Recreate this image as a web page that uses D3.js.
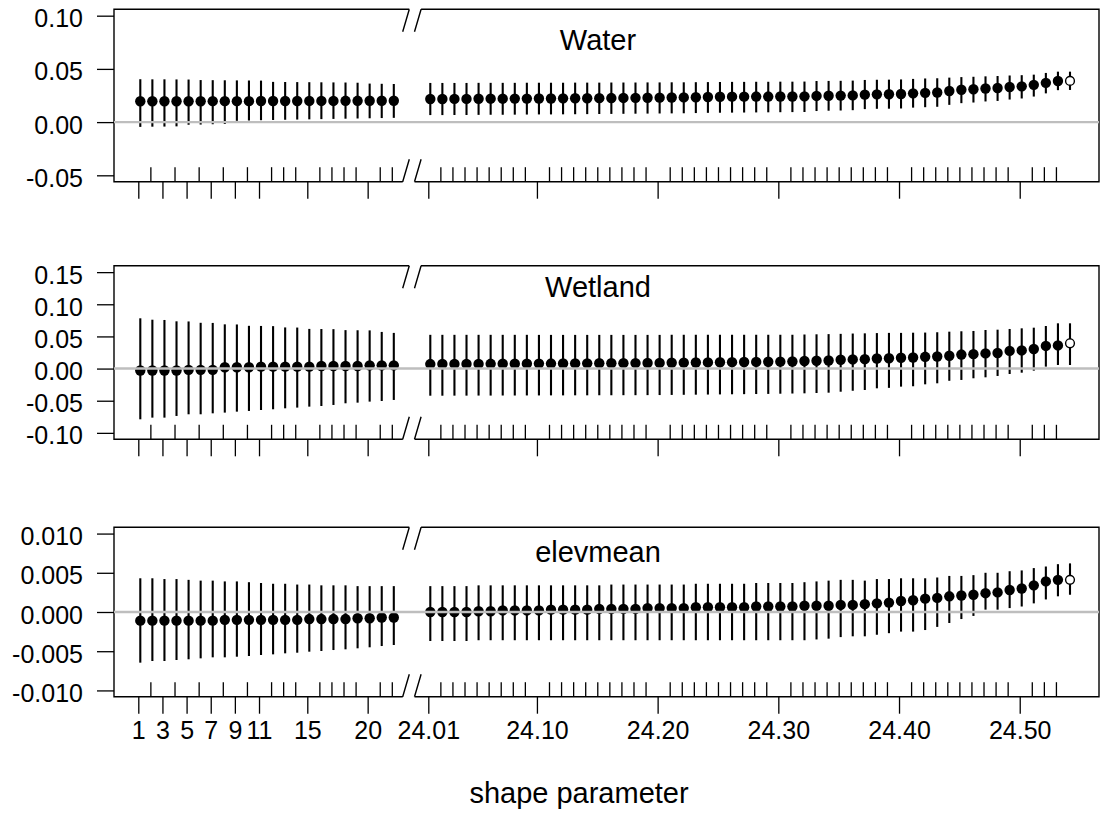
<!DOCTYPE html>
<html>
<head>
<meta charset="utf-8">
<script src="https://cdn.jsdelivr.net/npm/d3@7"></script>
<style>
  body { margin: 0; background: #fff; }
  svg { display: block; font-family: "Liberation Sans", Arial, sans-serif; }
</style>
</head>
<body>
<svg id="chart" width="1102" height="815"></svg>
<script>
// shape parameter values (left block 1..22, right block 24.01..24.54)
const shape = [
  1, 2, 3, 4, 5, 6, 7, 8, 9, 10, 11, 12, 13, 14, 15, 16, 17, 18, 19, 20, 21, 22,
  24.01, 24.02, 24.03, 24.04, 24.05, 24.06, 24.07, 24.08, 24.09, 24.10,
  24.11, 24.12, 24.13, 24.14, 24.15, 24.16, 24.17, 24.18, 24.19, 24.20,
  24.21, 24.22, 24.23, 24.24, 24.25, 24.26, 24.27, 24.28, 24.29, 24.30,
  24.31, 24.32, 24.33, 24.34, 24.35, 24.36, 24.37, 24.38, 24.39, 24.40,
  24.41, 24.42, 24.43, 24.44, 24.45, 24.46, 24.47, 24.48, 24.49, 24.50,
  24.51, 24.52, 24.53, 24.54
];
const openShape = 24.54;   // drawn as open circle

const leftTickLabels = [1, 3, 5, 7, 9, 11, 15, 20];
const rightTickLabels = [24.01, 24.10, 24.20, 24.30, 24.40, 24.50];

// Water
const waterMean = [
  0.0196, 0.0196, 0.0196, 0.0196, 0.0196, 0.0196, 0.0197, 0.0197, 0.0197, 0.0197, 0.0198,
  0.0198, 0.0198, 0.0198, 0.0199, 0.0199, 0.0199, 0.0200, 0.0200, 0.0201, 0.0201, 0.0201,
  0.0217, 0.0217, 0.0218, 0.0218, 0.0219, 0.0220, 0.0220, 0.0221, 0.0221, 0.0222,
  0.0222, 0.0223, 0.0224, 0.0224, 0.0225, 0.0226, 0.0227, 0.0228, 0.0229, 0.0230,
  0.0231, 0.0232, 0.0234, 0.0236, 0.0238, 0.0239, 0.0239, 0.0240, 0.0240, 0.0241,
  0.0241, 0.0242, 0.0246, 0.0248, 0.0249, 0.0251, 0.0258, 0.0261, 0.0262, 0.0264,
  0.0270, 0.0275, 0.0278, 0.0292, 0.0304, 0.0309, 0.0316, 0.0320, 0.0330, 0.0336,
  0.0350, 0.0369, 0.0386, 0.0387
];
const waterLower = [
  -0.0045, -0.0043, -0.0042, -0.0040, -0.0025, -0.0023, -0.0020, -0.0018, 0.0012, 0.0015, 0.0018,
  0.0020, 0.0022, 0.0024, 0.0026, 0.0028, 0.0030, 0.0032, 0.0034, 0.0036, 0.0038, 0.0040,
  0.0066, 0.0066, 0.0067, 0.0067, 0.0068, 0.0069, 0.0069, 0.0070, 0.0071, 0.0072,
  0.0072, 0.0073, 0.0074, 0.0075, 0.0076, 0.0077, 0.0078, 0.0079, 0.0080, 0.0081,
  0.0082, 0.0083, 0.0085, 0.0087, 0.0088, 0.0089, 0.0090, 0.0091, 0.0092, 0.0093,
  0.0094, 0.0095, 0.0104, 0.0107, 0.0109, 0.0112, 0.0122, 0.0125, 0.0126, 0.0128,
  0.0136, 0.0140, 0.0144, 0.0162, 0.0178, 0.0184, 0.0194, 0.0199, 0.0212, 0.0222,
  0.0240, 0.0270, 0.0300, 0.0302
];
const waterUpper = [
  0.0403, 0.0402, 0.0402, 0.0401, 0.0400, 0.0395, 0.0394, 0.0393, 0.0392, 0.0391, 0.0390,
  0.0378, 0.0377, 0.0376, 0.0375, 0.0374, 0.0373, 0.0372, 0.0370, 0.0362, 0.0360, 0.0358,
  0.0368, 0.0368, 0.0368, 0.0368, 0.0369, 0.0369, 0.0369, 0.0369, 0.0370, 0.0370,
  0.0370, 0.0370, 0.0371, 0.0371, 0.0371, 0.0372, 0.0372, 0.0372, 0.0373, 0.0373,
  0.0374, 0.0374, 0.0375, 0.0376, 0.0377, 0.0378, 0.0378, 0.0379, 0.0379, 0.0380,
  0.0380, 0.0381, 0.0386, 0.0387, 0.0388, 0.0390, 0.0396, 0.0398, 0.0399, 0.0401,
  0.0406, 0.0410, 0.0412, 0.0418, 0.0423, 0.0426, 0.0430, 0.0433, 0.0438, 0.0441,
  0.0446, 0.0462, 0.0474, 0.0474
];

// Wetland
const wetlandMean = [
  -0.003, -0.003, -0.003, -0.003, -0.002, -0.002, -0.002, 0.002, 0.002, 0.002, 0.003,
  0.003, 0.003, 0.003, 0.003, 0.004, 0.004, 0.004, 0.004, 0.005, 0.005, 0.005,
  0.0070, 0.0071, 0.0072, 0.0072, 0.0073, 0.0074, 0.0075, 0.0075, 0.0076,
  0.0077, 0.0078, 0.0079, 0.0080, 0.0081, 0.0082, 0.0083, 0.0084, 0.0085, 0.0086, 0.0088,
  0.0090, 0.0092, 0.0094, 0.0096, 0.0098, 0.0100, 0.0102, 0.0104, 0.0106, 0.0108, 0.0110,
  0.0118, 0.0122, 0.0126, 0.0138, 0.0142, 0.0146, 0.0156, 0.0161, 0.0168, 0.0173,
  0.0183, 0.0188, 0.0200, 0.0218, 0.0224, 0.0236, 0.0242, 0.0275, 0.0282,
  0.0305, 0.0352, 0.0360, 0.0393
];
const wetlandLower = [
  -0.0789, -0.0763, -0.0763, -0.0737, -0.0711, -0.0711, -0.0696, -0.0685, -0.0670, -0.0659, -0.0644,
  -0.0633, -0.0618, -0.0607, -0.0592, -0.0582, -0.0566, -0.0540, -0.0530, -0.0514, -0.0504, -0.0488,
  -0.0422, -0.0422, -0.0421, -0.0421, -0.0420, -0.0420, -0.0419, -0.0419, -0.0418,
  -0.0418, -0.0417, -0.0417, -0.0416, -0.0416, -0.0415, -0.0415, -0.0414, -0.0414, -0.0413, -0.0412,
  -0.0410, -0.0408, -0.0406, -0.0404, -0.0402, -0.0400, -0.0398, -0.0396, -0.0394, -0.0391, -0.0388,
  -0.0385, -0.0380, -0.0375, -0.0360, -0.0345, -0.0333, -0.0307, -0.0300, -0.0281, -0.0275,
  -0.0245, -0.0229, -0.0190, -0.0177, -0.0151, -0.0136, -0.0115, -0.0084, -0.0064,
  -0.0032, 0.0030, 0.0056, 0.0056
];
const wetlandUpper = [
  0.0782, 0.0760, 0.0756, 0.0735, 0.0733, 0.0712, 0.0710, 0.0688, 0.0686, 0.0665, 0.0663,
  0.0660, 0.0640, 0.0638, 0.0617, 0.0615, 0.0613, 0.0598, 0.0596, 0.0594, 0.0570, 0.0555,
  0.0525, 0.0525, 0.0525, 0.0525, 0.0525, 0.0525, 0.0525, 0.0525, 0.0525,
  0.0524, 0.0524, 0.0524, 0.0524, 0.0524, 0.0524, 0.0524, 0.0524, 0.0524, 0.0524, 0.0524,
  0.0526, 0.0526, 0.0526, 0.0526, 0.0526, 0.0526, 0.0526, 0.0526, 0.0526, 0.0526, 0.0526,
  0.0530, 0.0533, 0.0536, 0.0540, 0.0545, 0.0548, 0.0552, 0.0555, 0.0555, 0.0558,
  0.0560, 0.0565, 0.0574, 0.0580, 0.0585, 0.0600, 0.0605, 0.0616, 0.0626,
  0.0636, 0.0662, 0.0704, 0.0704
];

// elevmean
const elevMean = [
  -0.0011, -0.0011, -0.0011, -0.0011, -0.0011, -0.0011, -0.0011, -0.0010, -0.0010, -0.0010, -0.0010,
  -0.0010, -0.0010, -0.0010, -0.0009, -0.0009, -0.0009, -0.0009, -0.0008, -0.0008, -0.0007, -0.0007,
  0.0000, 0.0000, 0.0000, 0.0000, 0.0001, 0.0001, 0.0002, 0.0002, 0.0002,
  0.0002, 0.0003, 0.0003, 0.0003, 0.0003, 0.0004, 0.0004, 0.0004, 0.0004, 0.0005,
  0.0005, 0.0005, 0.0005, 0.0006, 0.0006,
  0.0006, 0.0006, 0.0006, 0.0007, 0.0007, 0.0007, 0.0007, 0.0008, 0.0008, 0.0008,
  0.0009, 0.0009, 0.0010, 0.0011, 0.0012, 0.0014, 0.0015, 0.0017, 0.0018, 0.0020,
  0.0021, 0.0022, 0.0024, 0.0025, 0.0028, 0.0030, 0.0034, 0.0039, 0.0041, 0.0041
];
const elevLower = [
  -0.00646, -0.00625, -0.00625, -0.00612, -0.00603, -0.00591, -0.00578, -0.00578, -0.00570, -0.00561, -0.00548,
  -0.00540, -0.00527, -0.00519, -0.00506, -0.00497, -0.00485, -0.00476, -0.00463, -0.00450, -0.00434, -0.00421,
  -0.0037, -0.0037, -0.0037, -0.0037, -0.0036, -0.0036, -0.0036, -0.0036, -0.0036,
  -0.0036, -0.0036, -0.0036, -0.0036, -0.0036, -0.0036, -0.0036, -0.0036, -0.0036, -0.0036,
  -0.0036, -0.0036, -0.0036, -0.0036, -0.0036,
  -0.0036, -0.0036, -0.0036, -0.0036, -0.0036, -0.0036, -0.0036, -0.0036, -0.0035, -0.0034,
  -0.0032, -0.0031, -0.0031, -0.0029, -0.0027, -0.0025, -0.0025, -0.0023, -0.0019, -0.0014,
  -0.0009, -0.0005, 0.0003, 0.0003, 0.0005, 0.0007, 0.0011, 0.0016, 0.0020, 0.0022
];
const elevUpper = [
  0.0043, 0.0043, 0.0042, 0.0042, 0.0041, 0.0040, 0.0040, 0.0039, 0.0039, 0.0038, 0.0037,
  0.0036, 0.0036, 0.0035, 0.0035, 0.0034, 0.0034, 0.0034, 0.0033, 0.0033, 0.0033, 0.0033,
  0.0033, 0.0033, 0.0033, 0.0033, 0.0034, 0.0034, 0.0034, 0.0034, 0.0034,
  0.0034, 0.0034, 0.0034, 0.0034, 0.0034, 0.0034, 0.0035, 0.0035, 0.0035, 0.0035,
  0.0035, 0.0035, 0.0035, 0.0036, 0.0036,
  0.0036, 0.0036, 0.0036, 0.0037, 0.0037, 0.0037, 0.0037, 0.0038, 0.0039, 0.0040,
  0.0041, 0.0041, 0.0040, 0.0042, 0.0042, 0.0043, 0.0043, 0.0043, 0.0044, 0.0046,
  0.0046, 0.0047, 0.0050, 0.0050, 0.0052, 0.0053, 0.0056, 0.0058, 0.0061, 0.0062
];

// ---- layout ----
const svg = d3.select('#chart');
const locale = d3.formatLocale({ decimal: '.', thousands: ',', grouping: [3], currency: ['', ''], minus: '-' });

const boxLeft = 114, boxRight = 1099;
const gapStart = 402.7, gapEnd = 414.5, slant = 6.6, slashH = 22.5;
const pointShift = 2;
const ink = '#000';

const xLeft = d3.scaleLinear().domain([1, 22]).range([138.3, 391.8]);
const xRight = d3.scaleLinear().domain([24.01, 24.54]).range([428.3, 1068]);
const xPos = v => (v < 23 ? xLeft(v) : xRight(v));

const leftShape = shape.filter(v => v < 23);
const rightShape = shape.filter(v => v > 23);
const rugLeft = leftShape.filter(v => !leftTickLabels.includes(v));
const rugRight = rightShape.filter(v => v !== openShape && !rightTickLabels.some(t => Math.abs(t - v) < 1e-9));

const panels = [
  { title: 'Water', mean: waterMean, lower: waterLower, upper: waterUpper,
    top: 9.3, bottom: 181.7, ylim: [-0.05, 0.10], ticks: [-0.05, 0, 0.05, 0.10], fmt: '.2f', titleY: 50, labels: false },
  { title: 'Wetland', mean: wetlandMean, lower: wetlandLower, upper: wetlandUpper,
    top: 265.7, bottom: 439.3, ylim: [-0.10, 0.15], ticks: [-0.10, -0.05, 0, 0.05, 0.10, 0.15], fmt: '.2f', titleY: 296.7, labels: false },
  { title: 'elevmean', mean: elevMean, lower: elevLower, upper: elevUpper,
    top: 527.3, bottom: 696.7, ylim: [-0.010, 0.010], ticks: [-0.010, -0.005, 0, 0.005, 0.010], fmt: '.3f', titleY: 561.7, labels: true }
];

function styleAxis(sel) {
  sel.select('.domain').remove();
  sel.selectAll('.tick line').attr('stroke', ink).attr('stroke-width', 1.3);
  sel.selectAll('.tick text').attr('fill', ink);
  sel.attr('font-size', 25).attr('font-family', '"Liberation Sans", Arial, sans-serif');
}

panels.forEach(p => {
  const pad = (p.ylim[1] - p.ylim[0]) * 0.04;
  const y = d3.scaleLinear()
    .domain([p.ylim[0] - pad, p.ylim[1] + pad])
    .range([p.bottom, p.top]);

  const g = svg.append('g');

  const rows = shape.map((x, i) => ({
    x, mean: p.mean[i], lo: p.lower[i], hi: p.upper[i], open: x === openShape
  }));

  // box with axis break
  const boxPath = d3.path();
  boxPath.moveTo(gapStart + slant, p.top);
  boxPath.lineTo(boxLeft, p.top);
  boxPath.lineTo(boxLeft, p.bottom);
  boxPath.lineTo(gapStart, p.bottom);
  boxPath.moveTo(gapEnd + slant, p.top);
  boxPath.lineTo(boxRight, p.top);
  boxPath.lineTo(boxRight, p.bottom);
  boxPath.lineTo(gapEnd, p.bottom);
  // slashes
  [gapStart, gapEnd].forEach(gx => {
    boxPath.moveTo(gx, p.top + slashH);
    boxPath.lineTo(gx + slant, p.top);
    boxPath.moveTo(gx, p.bottom);
    boxPath.lineTo(gx + slant, p.bottom - slashH);
  });
  g.append('path')
    .attr('d', boxPath.toString())
    .attr('fill', 'none')
    .attr('stroke', ink)
    .attr('stroke-width', 1.4);

  // y axis
  g.append('g')
    .attr('transform', `translate(${boxLeft},0)`)
    .call(d3.axisLeft(y).tickValues(p.ticks).tickSize(17).tickPadding(14).tickFormat(locale.format(p.fmt)))
    .call(styleAxis)
    .call(a => a.selectAll('.tick text').attr('dy', '0.44em'));

  // x axis: outer labelled ticks
  g.append('g')
    .attr('transform', `translate(0,${p.bottom})`)
    .call(d3.axisBottom(xLeft).tickValues(leftTickLabels).tickSize(17).tickPadding(8)
      .tickFormat(p.labels ? d => d : ''))
    .call(styleAxis);
  g.append('g')
    .attr('transform', `translate(0,${p.bottom})`)
    .call(d3.axisBottom(xRight).tickValues(rightTickLabels).tickSize(17).tickPadding(8)
      .tickFormat(p.labels ? locale.format('.2f') : ''))
    .call(styleAxis);

  // x axis: inner rug ticks for unlabelled values
  g.append('g')
    .attr('transform', `translate(0,${p.bottom})`)
    .call(d3.axisTop(xLeft).tickValues(rugLeft).tickSize(14.5).tickFormat(''))
    .call(styleAxis);
  g.append('g')
    .attr('transform', `translate(0,${p.bottom})`)
    .call(d3.axisTop(xRight).tickValues(rugRight).tickSize(14.5).tickFormat(''))
    .call(styleAxis);

  // error bars
  g.append('g').selectAll('line')
    .data(rows)
    .join('line')
    .attr('x1', d => xPos(d.x) + pointShift)
    .attr('x2', d => xPos(d.x) + pointShift)
    .attr('y1', d => y(d.lo))
    .attr('y2', d => y(d.hi))
    .attr('stroke', ink)
    .attr('stroke-width', 2.1);

  // points
  g.append('g').selectAll('circle')
    .data(rows)
    .join('circle')
    .attr('cx', d => xPos(d.x) + pointShift)
    .attr('cy', d => y(d.mean))
    .attr('r', d => (d.open ? 4.4 : 5.2))
    .attr('fill', d => (d.open ? '#fff' : ink))
    .attr('stroke', ink)
    .attr('stroke-width', d => (d.open ? 1.4 : 0));

  // zero reference line, drawn over the points
  g.append('line')
    .attr('x1', boxLeft)
    .attr('x2', boxRight)
    .attr('y1', y(0))
    .attr('y2', y(0))
    .attr('stroke', '#bebebe')
    .attr('stroke-width', 2.4);

  // panel title
  g.append('text')
    .attr('x', 598)
    .attr('y', p.titleY)
    .attr('text-anchor', 'middle')
    .attr('font-size', 29)
    .attr('fill', ink)
    .text(p.title);
});

// x axis title
svg.append('text')
  .attr('x', 579)
  .attr('y', 803)
  .attr('text-anchor', 'middle')
  .attr('font-size', 29)
  .attr('fill', ink)
  .text('shape parameter');
</script>
</body>
</html>
